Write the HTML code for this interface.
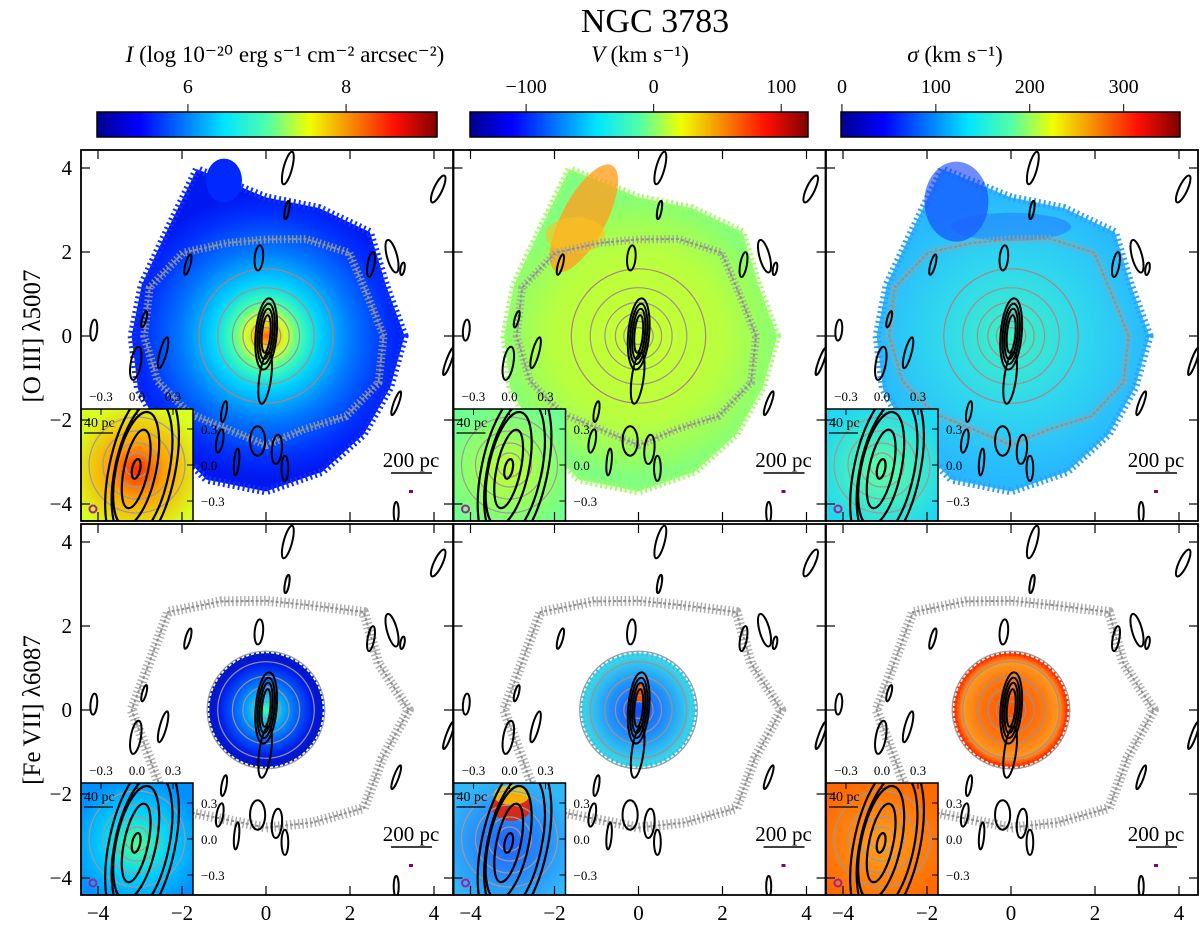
<!DOCTYPE html>
<html><head><meta charset="utf-8"><style>
html,body{margin:0;padding:0;background:#fff;}
svg{display:block;font-family:"Liberation Serif",serif;}
</style></head><body>
<svg id="fig" width="1200" height="929" viewBox="0 0 1200 929" xmlns="http://www.w3.org/2000/svg">
<defs id="defs">
<linearGradient id="jet" x1="0" x2="1" y1="0" y2="0">
<stop offset="0" stop-color="#00008f"/><stop offset="0.125" stop-color="#0000ff"/><stop offset="0.375" stop-color="#00e5ff"/><stop offset="0.5" stop-color="#50ffa8"/><stop offset="0.625" stop-color="#f0ff00"/><stop offset="0.875" stop-color="#ff1000"/><stop offset="1" stop-color="#800000"/>
</linearGradient>
<radialGradient id="iI" cx="0.5" cy="0.55" r="0.6"><stop offset="0" stop-color="#ff2a00"/><stop offset="0.4" stop-color="#ffa000"/><stop offset="1" stop-color="#d8ff20"/></radialGradient>
<radialGradient id="iV" cx="0.5" cy="0.55" r="0.6"><stop offset="0" stop-color="#c0ff30"/><stop offset="1" stop-color="#70ff90"/></radialGradient>
<radialGradient id="iS" cx="0.5" cy="0.55" r="0.6"><stop offset="0" stop-color="#60ffa0"/><stop offset="1" stop-color="#20d8f0"/></radialGradient>
<radialGradient id="iI2" cx="0.5" cy="0.55" r="0.6"><stop offset="0" stop-color="#50ff90"/><stop offset="0.5" stop-color="#00d0ff"/><stop offset="1" stop-color="#0090ff"/></radialGradient>
<radialGradient id="iV2" cx="0.5" cy="0.55" r="0.6"><stop offset="0" stop-color="#2060ff"/><stop offset="1" stop-color="#30b8f8"/></radialGradient>
<radialGradient id="iS2" cx="0.5" cy="0.55" r="0.6"><stop offset="0" stop-color="#ffa020"/><stop offset="1" stop-color="#ff6a00"/></radialGradient>
</defs>
</svg>
<script>
// ---- data ----
const cbarLabels = ['I', 'V', 'σ'];
const cbarTicks0 = [6, 8];
const cbarTicks1 = [-100, 0, 100];
const cbarTicks2 = [0, 100, 200, 300];
const cbarRange0 = [4.85, 9.15];
const cbarRange1 = [-144, 121];
const cbarRange2 = [-1, 360];
const axisTicks = [-4, -2, 0, 2, 4];
const rowLabels = ['[O\u2009III] \u03bb5007', '[Fe\u2009VII] \u03bb6087'];
const blobAngles = [0,22.5,45,67.5,90,112.5,135,157.5,180,202.5,225,247.5,270,292.5,315,337.5];
const blobRadiiTop = [3.3,3.1,3.5,3.3,3.3,4.3,3.4,3.2,3.2,3.3,3.4,3.7,3.7,3.5,3.3,3.2];
const ringRadiiTop = [2.8,2.6,2.8,2.5,2.3,2.4,2.8,3.0,2.9,2.8,2.6,2.4,2.6,2.4,2.7,2.9];
const ringRadiiBot = [3.4,2.9,3.3,2.7,2.6,2.8,3.3,3.0,3.2,3.0,3.3,2.8,2.8,2.9,3.3,3.0];
const innerLevels = [1.6,1.15,0.8,0.55,0.35,0.2];
const coreRadius = 1.35;
// black contour blobs: x, y (arcsec), semi-axes, angle
const contX = [0.52,4.1,0.5,-0.17,-1.86,3.0,2.5,3.25,-4.1,-2.9,-2.45,-3.1,4.35,3.1,-1.0,-1.1,-0.7,-0.2,0.26,0.45,3.1];
const contY = [4.0,3.5,3.0,1.86,1.7,1.9,1.7,1.6,0.14,0.4,-0.4,-0.65,-0.6,-1.6,-1.8,-2.5,-3.0,-2.5,-2.7,-3.15,-4.2];
const contA = [0.1,0.1,0.05,0.1,0.06,0.12,0.08,0.05,0.08,0.05,0.08,0.12,0.06,0.06,0.06,0.08,0.06,0.18,0.12,0.08,0.06];
const contB = [0.4,0.35,0.22,0.3,0.25,0.4,0.3,0.15,0.25,0.2,0.38,0.4,0.35,0.3,0.25,0.28,0.32,0.35,0.35,0.3,0.25];
const contRot = [15,25,10,5,15,-15,10,10,5,15,15,10,20,20,10,10,5,0,5,0,0];
const jetA = [0.1,0.15,0.2,0.25];
const jetB = [0.45,0.6,0.72,0.85];
const tailY = -1.0;
const insetTicks = [-0.3, 0.0, 0.3];
const insetEllA = [4,12,20,27,33];
const insetEllB = [10,40,58,72,85];

// ---- helpers ----
const NS = 'http://www.w3.org/2000/svg';
const svg = document.getElementById('fig');
const defs = document.getElementById('defs');
function mk(tag, attrs, parent) {
  const e = document.createElementNS(NS, tag);
  for (const k in attrs) e.setAttribute(k, attrs[k]);
  (parent || svg).appendChild(e);
  return e;
}
function txt(s, attrs, parent) { const e = mk('text', attrs, parent); e.textContent = s; return e; }
const SC = 42;
function px0(c) { return 81 + c * 372.5; }
function py0(r) { return 150 + r * 374; }
function X(c, x) { return px0(c) + 185 + x * SC; }
function Y(r, y) { return py0(r) + 186 - y * SC; }
function polyPts(c, r, radii) {
  return blobAngles.map((a, i) => {
    const t = a * Math.PI / 180;
    return X(c, radii[i] * Math.cos(t)).toFixed(1) + ',' + Y(r, radii[i] * Math.sin(t)).toFixed(1);
  }).join(' ');
}
function radGrad(id, cx, cy, rad, stops) {
  const g = mk('radialGradient', {id: id, gradientUnits: 'userSpaceOnUse', cx: cx, cy: cy, r: rad}, defs);
  stops.forEach(s => mk('stop', {offset: s[0], 'stop-color': s[1]}, g));
}

// ---- title ----
const title = txt('NGC 3783', {x: 655, y: 32, 'font-size': 34, 'text-anchor': 'middle'});



// ---- colorbars ----
const cbX = [97, 470, 841];
const cbW = [340, 338, 339];
const cbTicks = [cbarTicks0, cbarTicks1, cbarTicks2];
const cbRanges = [cbarRange0, cbarRange1, cbarRange2];
const cbUnits = ['(log 10\u207b\u00b2\u2070 erg s\u207b\u00b9 cm\u207b\u00b2 arcsec\u207b\u00b2)', '(km s\u207b\u00b9)', '(km s\u207b\u00b9)'];
const cbCenters = [285, 640, 955];
const cbFont = [23, 23, 23];
for (let i = 0; i < 3; i++) {
  const g = mk('g', {});
  
  
  mk('rect', {x: cbX[i], y: 112, width: cbW[i], height: 25, fill: 'url(#jet)', stroke: '#000', 'stroke-width': 1.5}, g);
  const rng = cbRanges[i];
  cbTicks[i].forEach(v => {
    const xx = cbX[i] + (v - rng[0]) / (rng[1] - rng[0]) * cbW[i];
    mk('line', {x1: xx, x2: xx, y1: 112, y2: 104, stroke: '#000', 'stroke-width': 1}, g);
    const t = txt(v < 0 ? '\u2212' + (-v) : String(v), {x: xx, y: 93, 'font-size': 20, 'text-anchor': 'middle'}, g);
    
    
  });
  const lab = txt('', {x: cbCenters[i], y: 62, 'font-size': cbFont[i], 'text-anchor': 'middle'}, g);
  
  
  const ts = mk('tspan', {'font-style': 'italic'}, lab); ts.textContent = cbarLabels[i] + ' ';
  const tu = mk('tspan', {}, lab); tu.textContent = cbUnits[i];
}

// ---- row labels ----
rowLabels.forEach((s, r) => {
  const cy = Y(r, 0);
  const t = txt(s, {x: 0, y: 0, 'font-size': 25, 'text-anchor': 'middle', transform: `translate(40,${cy}) rotate(-90)`});
  
  
});

const insetFills = [['url(#iI)', 'url(#iV)', 'url(#iS)'], ['url(#iI2)', 'url(#iV2)', 'url(#iS2)']];
const panelNames = ['intensity', 'velocity', 'dispersion'];
const gradStops = [
  [[[0,'#ff6000'],[0.06,'#ffc000'],[0.14,'#d0ff30'],[0.24,'#40ffb0'],[0.38,'#00d0ff'],[0.6,'#0078ff'],[0.85,'#0030ff'],[1,'#0018f0']],
   [[0,'#c8ff30'],[0.6,'#b8ff40'],[0.85,'#98ff60'],[1,'#80ff80']],
   [[0,'#40f0c0'],[0.5,'#30d8ee'],[1,'#28b8ff']]],
  [[[0,'#40ffb0'],[0.2,'#00d0ff'],[0.5,'#0070ff'],[0.8,'#0020ee'],[1,'#0010c0']],
   [[0,'#1050ff'],[0.5,'#2090ff'],[0.8,'#30c0f0'],[1,'#40d8e0']],
   [[0,'#ff5000'],[0.6,'#ff7a10'],[0.85,'#ff9a20'],[1,'#ff3000']]]
];
const edgeCol = [['#1030ff', '#a0ff60', '#30a0ff'], ['#0020d0', '#30c0f0', '#ff3000']];

for (let r = 0; r < 2; r++) {
  for (let c = 0; c < 3; c++) {
    const x0 = px0(c), y0 = py0(r), W = 372, H = 371;
    const g = mk('g', {});
    
    
    const cid = 'clip' + r + c;
    const cp = mk('clipPath', {id: cid}, g);
    mk('rect', {x: x0, y: y0, width: W, height: H}, cp);
    const inner = mk('g', {'clip-path': `url(#${cid})`}, g);
    const cx = X(c, 0), cy = Y(r, 0);
    const gid = 'pg' + r + c;
    radGrad(gid, cx, cy, (r === 0 ? 3.4 : coreRadius) * SC, gradStops[r][c]);
    if (r === 0) {
      const blob = mk('polygon', {points: polyPts(c, r, blobRadiiTop), fill: `url(#${gid})`, 'stroke': edgeCol[r][c], 'stroke-width': 8, 'stroke-dasharray': '2 3', 'stroke-linejoin': 'round'}, inner);
      
      
      if (c === 1) {
        mk('ellipse', {cx: X(c, -1.3), cy: Y(r, 2.8), rx: 22, ry: 60, fill: '#ffa020', opacity: 0.8, transform: `rotate(28 ${X(c, -1.3)} ${Y(r, 2.8)})`}, inner);
        mk('ellipse', {cx: X(c, -1.5), cy: Y(r, 2.4), rx: 30, ry: 18, fill: '#ffc020', opacity: 0.6}, inner);
      }
      if (c === 2) {
        mk('ellipse', {cx: X(c, -1.3), cy: Y(r, 3.2), rx: 32, ry: 40, fill: '#1040ff', opacity: 0.6}, inner);
        mk('ellipse', {cx: X(c, 0.0), cy: Y(r, 2.6), rx: 60, ry: 14, fill: '#2060ff', opacity: 0.4}, inner);
      }
      if (c === 0) {
        mk('ellipse', {cx: X(c, -1.0), cy: Y(r, 3.7), rx: 18, ry: 22, fill: '#0028ff'}, inner);
      }
    } else {
      const core = mk('circle', {cx: cx, cy: cy, r: coreRadius * SC, fill: `url(#${gid})`, stroke: edgeCol[r][c], 'stroke-width': 5, 'stroke-dasharray': '2 3'}, inner);
      
      
      if (c === 1) mk('ellipse', {cx: X(c, 0.05), cy: Y(r, 0.4), rx: 5, ry: 9, fill: '#ff5000'}, inner);
    }
    // gray outer ring (speckled band)
    const ringPts = polyPts(c, r, r === 0 ? ringRadiiTop : ringRadiiBot);
    const ring = mk('polygon', {points: ringPts, fill: 'none', stroke: '#a0a0a0', 'stroke-width': r === 0 ? 8 : 10, 'stroke-dasharray': '1.5 2.5', 'stroke-linejoin': 'round', opacity: 0.85}, inner);
    
    
    mk('polygon', {points: ringPts, fill: 'none', stroke: '#909090', 'stroke-width': 2, 'stroke-dasharray': '3 2', 'stroke-linejoin': 'round'}, inner);
    innerLevels.forEach((lv, k) => {
      if (r === 1 && lv > coreRadius + 0.1) { mk('circle', {cx: cx, cy: cy, r: (coreRadius + 0.05) * SC, fill: 'none', stroke: '#999', 'stroke-width': 1.2}, inner); return; }
      const e = mk('circle', {cx: cx, cy: cy, r: lv * SC, fill: 'none', stroke: k === 0 ? '#b08080' : '#a09090', 'stroke-width': 1.2}, inner);
      
      
    });
    // black radio contours
    contX.forEach((vx, k) => {
      const ex = X(c, vx), ey = Y(r, contY[k]);
      const e = mk('ellipse', {cx: ex, cy: ey, rx: contA[k] * SC, ry: contB[k] * SC, fill: 'none', stroke: '#000', 'stroke-width': 2, transform: `rotate(${contRot[k]} ${ex} ${ey})`}, inner);
      
      
    });
    jetA.forEach((a, k) => {
      const e = mk('ellipse', {cx: cx, cy: Y(r, 0.05), rx: a * SC, ry: jetB[k] * SC, fill: 'none', stroke: '#000', 'stroke-width': 2, transform: `rotate(5 ${cx} ${cy})`}, inner);
      
      
    });
    mk('ellipse', {cx: X(c, -0.02), cy: Y(r, tailY), rx: 0.14 * SC, ry: 0.62 * SC, fill: 'none', stroke: '#000', 'stroke-width': 2, transform: `rotate(8 ${X(c, -0.02)} ${Y(r, tailY)})`}, inner);
    // scale bar
    const sb = mk('g', {}, inner);
    
    
    txt('200 pc', {x: x0 + 330, y: y0 + 317, 'font-size': 21, 'text-anchor': 'middle'}, sb);
    mk('line', {x1: x0 + 310, x2: x0 + 351, y1: y0 + 323, y2: y0 + 323, stroke: '#000', 'stroke-width': 1.5}, sb);
    mk('rect', {x: x0 + 328, y: y0 + 340, width: 4, height: 3, fill: '#800080'}, inner);
    // inset
    const ix = x0, iy = y0 + 259, IW = 112;
    const ins = mk('g', {}, inner);
    
    
    const icp = mk('clipPath', {id: 'ic' + r + c}, ins);
    mk('rect', {x: ix, y: iy, width: IW, height: IW}, icp);
    const ig = mk('g', {'clip-path': `url(#ic${r}${c})`}, ins);
    mk('rect', {x: ix, y: iy, width: IW, height: IW, fill: insetFills[r][c]}, ig);
    const icx = ix + 56, icy = iy + 56;
    if (r === 1 && c === 1) mk('ellipse', {cx: icx + 2, cy: iy + 24, rx: 20, ry: 14, fill: '#e82000', opacity: 0.9}, ig);
    if (r === 1 && c === 1) mk('ellipse', {cx: icx + 2, cy: iy + 12, rx: 18, ry: 10, fill: '#ffd000', opacity: 0.8}, ig);
    [12, 22, 34, 48].forEach(rr => mk('circle', {cx: icx, cy: icy, r: rr, fill: 'none', stroke: '#a09898', 'stroke-width': 1.2}, ig));
    insetEllA.forEach((a, k) => {
      mk('ellipse', {cx: icx + (k > 2 ? 6 : 0), cy: icy + 4, rx: a, ry: insetEllB[k], fill: 'none', stroke: '#000', 'stroke-width': 2.2, transform: `rotate(12 ${icx} ${icy})`}, ig);
    });
    txt('40 pc', {x: ix + 3, y: iy + 18, 'font-size': 14}, ig);
    mk('line', {x1: ix + 3, x2: ix + 32, y1: iy + 24, y2: iy + 24, stroke: '#000', 'stroke-width': 1.2}, ig);
    mk('circle', {cx: ix + 12, cy: iy + 100, r: 3.5, fill: 'none', stroke: '#a0209a', 'stroke-width': 2}, ig);
    mk('rect', {x: ix, y: iy, width: IW, height: IW, fill: 'none', stroke: '#000', 'stroke-width': 1.5}, ins);
    insetTicks.forEach((v, k) => {
      const s = v < 0 ? '\u22120.3' : v.toFixed(1);
      txt(s, {x: icx + v / 0.3 * 36, y: iy - 8, 'font-size': 13, 'text-anchor': 'middle'}, ins);
      txt(s, {x: ix + IW + 8, y: icy - v / 0.3 * 36 + 5, 'font-size': 13}, ins);
      mk('line', {x1: icx + v / 0.3 * 36, x2: icx + v / 0.3 * 36, y1: iy, y2: iy + 6, stroke: '#000'}, ins);
      mk('line', {x1: ix + IW, x2: ix + IW - 6, y1: icy - v / 0.3 * 36, y2: icy - v / 0.3 * 36, stroke: '#000'}, ins);
    });
    // frame & ticks
    mk('rect', {x: x0, y: y0, width: W, height: H, fill: 'none', stroke: '#000', 'stroke-width': 1.8}, g);
    axisTicks.forEach(v => {
      const xx = X(c, v), yy = Y(r, v);
      mk('line', {x1: xx, x2: xx, y1: y0 + H, y2: y0 + H - 9, stroke: '#000', 'stroke-width': 1.2}, g);
      mk('line', {x1: xx, x2: xx, y1: y0, y2: y0 + 9, stroke: '#000', 'stroke-width': 1.2}, g);
      mk('line', {x1: x0, x2: x0 + 9, y1: yy, y2: yy, stroke: '#000', 'stroke-width': 1.2}, g);
      mk('line', {x1: x0 + W, x2: x0 + W - 9, y1: yy, y2: yy, stroke: '#000', 'stroke-width': 1.2}, g);
      if (r === 1) {
        const t = txt(v < 0 ? '\u2212' + (-v) : String(v), {x: xx, y: 920, 'font-size': 21, 'text-anchor': 'middle'});
        
        
      }
      if (c === 0) {
        const t = txt(v < 0 ? '\u2212' + (-v) : String(v), {x: 72, y: yy + 7, 'font-size': 21, 'text-anchor': 'end'});
        
        
      }
    });
  }
}
</script>
</body></html>
